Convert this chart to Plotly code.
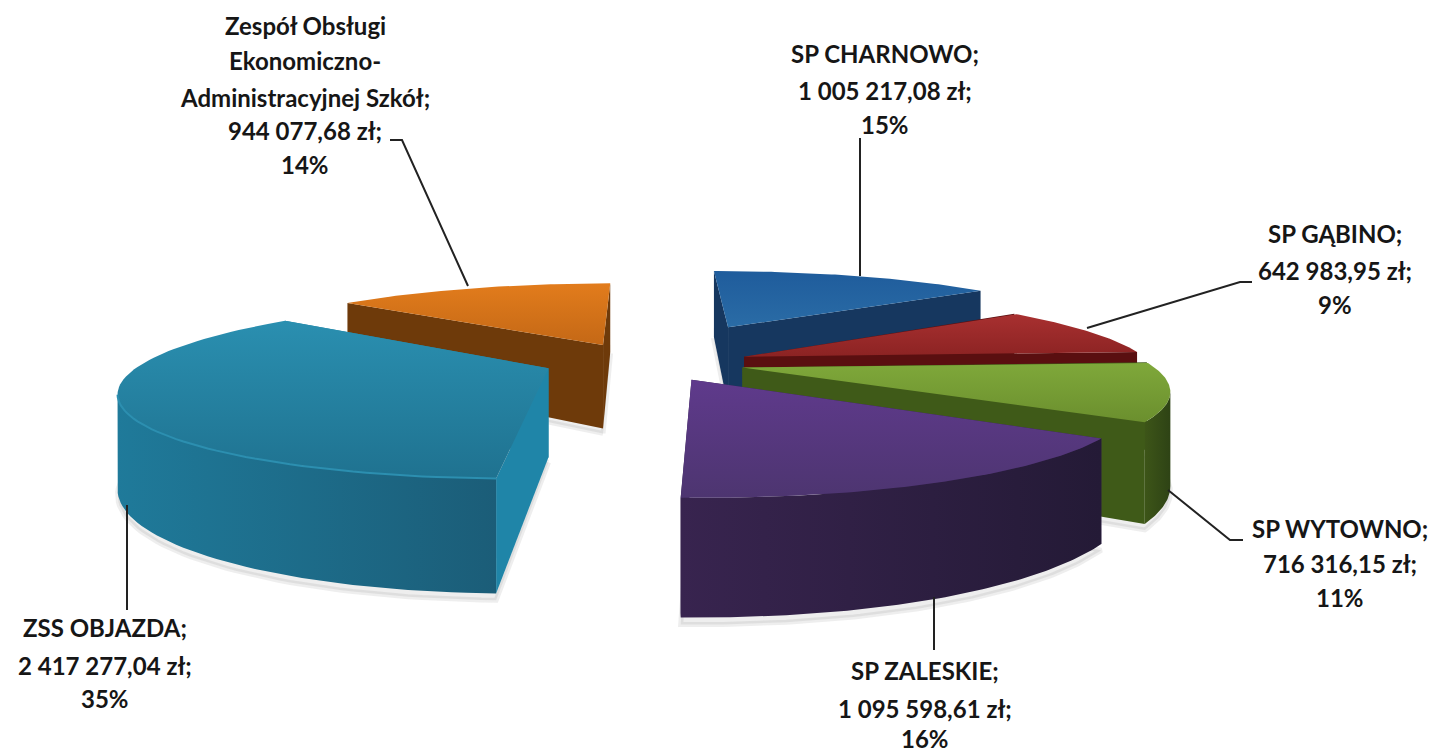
import numpy as np
import plotly.graph_objects as go

names = ["SP CHARNOWO", "SP GĄBINO", "SP WYTOWNO", "SP ZALESKIE", "ZSS OBJAZDA", "Zespół Obsługi Ekonomiczno-Administracyjnej Szkół"]
values = [1005217.08, 642983.95, 716316.15, 1095598.61, 2417277.04, 944077.68]
amounts = ["1 005 217,08 zł;", "642 983,95 zł;", "716 316,15 zł;", "1 095 598,61 zł;", "2 417 277,04 zł;", "944 077,68 zł;"]
percents = ["15%", "9%", "11%", "16%", "35%", "14%"]

# how far each slice is pulled out, sideways and backwards
pull_x = [0.185, 0.21, 0.20, 0.074, -0.27, -0.147]
pull_y = [0.34, -0.06, -0.19, -0.33, -0.20, 0.09]
# top gradient (back, front), outer wall (left, right), cut face
top_colors = [("#1f5c9c", "#2a6ca6"), ("#a83030", "#8c2323"), ("#7fa83a", "#6b8f2e"), ("#5f3a8c", "#4d3570"), ("#2a8fb0", "#1f7290"), ("#e27c1c", "#c46816")]
wall_colors = [("#16375f", "#16375f"), ("#5a0f10", "#5a0f10"), ("#3d5518", "#2e4315"), ("#38244f", "#241a36"), ("#1f7a9a", "#1b5d78"), ("#6e3a0a", "#6e3a0a")]
cut_colors = ["#16375f", "#5a0f10", "#3f5a18", "#33204d", "#1f85a8", "#6e3a0a"]
draw_order = [0, 1, 2, 5, 4, 3]

start_angle = -0.5
cx, cy = 660, 352
rx, ry = 395, 78
persp = 4.6
depth = 85

text_color = "#161616"
font = dict(family="Lato", size=24, color=text_color)
label_lines = [
    (885, [53, 90, 124], ["SP CHARNOWO;", amounts[0], percents[0]]),
    (1335, [233, 270, 304], ["SP GĄBINO;", amounts[1], percents[1]]),
    (1340, [528, 563, 597], ["SP WYTOWNO;", amounts[2], percents[2]]),
    (925, [670, 708, 738], ["SP ZALESKIE;", amounts[3], percents[3]]),
    (105, [627, 665, 698], ["ZSS OBJAZDA;", amounts[4], percents[4]]),
    (305, [25, 60, 97, 130, 164], ["Zespół Obsługi", "Ekonomiczno-", "Administracyjnej Szkół;", amounts[5], percents[5]]),
]
leaders = [
    "M860,138 L860,276",
    "M1252,282 L1240,282 L1087,328",
    "M1243,540 L1230,540 L1168,490",
    "M934,597 L934,650",
    "M127,505 L127,610",
    "M390,140 L402,140 L468,286",
]


def project(gx, gy, drop=0.0):
    s = persp / (persp + gy)
    return cx + rx * gx * s, cy - ry * gy * s + drop * s


def poly(x, y, colors, kind="vertical"):
    # the y axis is flipped, so a vertical gradient has to run the other way
    c0, c1 = (colors[1], colors[0]) if kind == "vertical" else colors
    return go.Scatter(
        x=list(x) + [x[0]], y=list(y) + [y[0]], mode="lines", fill="toself",
        line=dict(width=0), hoverinfo="skip", showlegend=False,
        fillgradient=dict(type=kind, colorscale=[[0, c0], [1, c1]]),
    )


fig = go.Figure()
shares = np.array(values) / sum(values) * 360
ends = start_angle + np.cumsum(shares)
starts = ends - shares

for i in draw_order:
    th = np.radians(np.linspace(starts[i], ends[i], 80))
    ox, oy = pull_x[i], pull_y[i]
    gx = ox + np.sin(th)
    gy = oy + np.cos(th)

    # soft shadow under the slice
    sx, sy = project(np.r_[ox, gx], np.r_[oy, gy], depth + 5)
    fig.add_trace(go.Scatter(x=list(sx) + [sx[0]], y=list(sy) + [sy[0]], mode="lines", fill="toself",
                             line=dict(width=5, color="rgba(90,90,90,0.10)"), fillcolor="rgba(90,90,90,0.10)",
                             hoverinfo="skip", showlegend=False))

    # cut faces, then the part of the outer wall facing us, then the top
    for ex, ey in [(gx[0], gy[0]), (gx[-1], gy[-1])]:
        x1, y1 = project(np.array([ox, ex]), np.array([oy, ey]))
        x2, y2 = project(np.array([ex, ox]), np.array([ey, oy]), depth)
        fig.add_trace(poly(np.r_[x1, x2], np.r_[y1, y2], (cut_colors[i], cut_colors[i])))
    x1, y1 = project(gx, gy)
    front = np.r_[np.diff(x1) < 0, False] | np.r_[False, np.diff(x1) < 0]
    if front.sum() > 1:
        fx, fy = project(gx[front], gy[front])
        bx, by = project(gx[front][::-1], gy[front][::-1], depth)
        fig.add_trace(poly(np.r_[fx, bx], np.r_[fy, by], wall_colors[i], "horizontal"))
    tx, ty = project(np.r_[ox, gx], np.r_[oy, gy])
    fig.add_trace(poly(tx, ty, top_colors[i]))
    if i == 4:
        fig.add_trace(go.Scatter(x=fx, y=fy, mode="lines", line=dict(color="#2c8fb0", width=2), hoverinfo="skip", showlegend=False))

for lx, ys, lines in label_lines:
    for ly, txt in zip(ys, lines):
        fig.add_annotation(x=lx, y=ly, text="<b>%s</b>" % txt, showarrow=False, font=font, xanchor="center", yanchor="middle")

fig.update_layout(
    width=1432, height=753, margin=dict(l=0, r=0, t=0, b=0),
    paper_bgcolor="white", plot_bgcolor="white", showlegend=False,
    xaxis=dict(range=[0, 1432], visible=False, fixedrange=True),
    yaxis=dict(range=[753, 0], visible=False, fixedrange=True),
    shapes=[dict(type="path", path=p, line=dict(color="#222222", width=2), layer="above") for p in leaders],
)
fig.write_html("out.html", post_script="document.body.style.margin='0';", config=dict(displayModeBar=False))
